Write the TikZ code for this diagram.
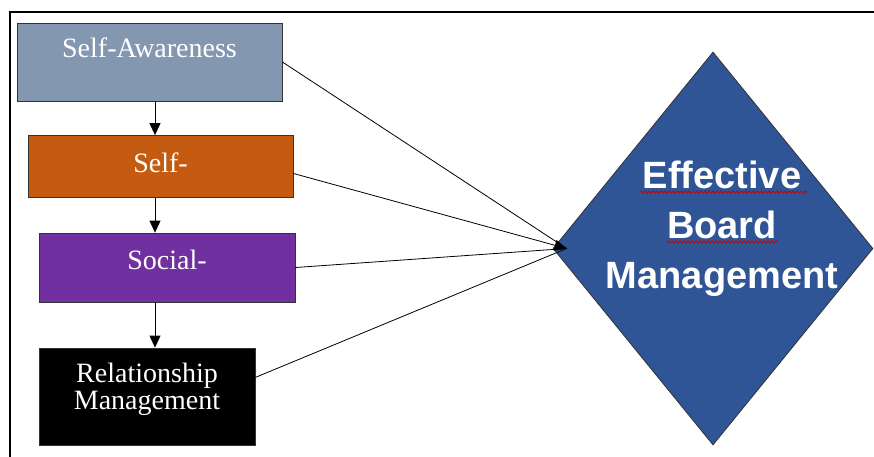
\documentclass[tikz,border=0pt]{standalone}
\usepackage{fontspec}
\setmainfont{Liberation Serif}
\newfontfamily\arialfont{Liberation Sans}
\usetikzlibrary{shapes.geometric,arrows.meta,positioning,decorations.pathmorphing}

\definecolor{awareblue}{HTML}{8497B0}
\definecolor{selforange}{HTML}{C55A11}
\definecolor{socialpurple}{HTML}{7030A0}
\definecolor{boardblue}{HTML}{2F5597}

\begin{document}
\begin{tikzpicture}[x=1pt,y=-1pt]
    \tikzset{>={Triangle[length=12pt,width=11pt]}}
    \tikzset{skill/.style={draw=black!80,line width=0.8pt,inner sep=0pt}}
    \tikzset{skilltext/.style={text=white,inner sep=0pt,anchor=base,font=\fontsize{28}{27}\selectfont}}
  \useasboundingbox (0,0) rectangle (874,456);
  %\draw[step=50pt,gray,very thin] (0,0) grid (874,456);

  \draw [line width=2pt] (10,12) rectangle (890,470);

\node[skill,fill=awareblue,minimum width=265pt,minimum height=78pt] (A) at (149.5,62) {};
\node[skilltext,yshift=-35pt] (AT) at (A.north) {Self-Awareness};

\node[skill,fill=selforange,minimum width=265pt,minimum height=62pt] (S) at (160.5,166.5) {};
\node[skilltext,yshift=-37pt] (ST) at (S.north) {Self-};

\node[skill,fill=socialpurple,minimum width=256pt,minimum height=69pt] (C) at (167,267.5) {};
\node[skilltext,yshift=-37pt] (CT) at (C.north) {Social-};

\node[skill,fill=black,minimum width=216pt,minimum height=97pt] (R) at (147,396.5) {};
\node[skilltext,yshift=-62pt,align=center] (RT) at (R.north) {Relationship\\Management};

\node[diamond,draw=black!80,line width=0.8pt,fill=boardblue,inner sep=0pt,
      minimum width=320pt,minimum height=393pt] (B) at (713,248.5) {};
\node[text=white,align=center,inner sep=0pt,font=\arialfont\bfseries\fontsize{38}{50}\selectfont] (BT) at (722,229) {Effective\\Board\\Management};

\coordinate (col) at (155,0);
\coordinate[right=14pt of B.west] (tip);

\draw [->,line width=1pt] (A.south -| col) -- (S.north -| col);
\draw [->,line width=1pt] (S.south -| col) -- (C.north -| col);
\draw [->,line width=1pt] (C.south -| col) -- (R.north -| col);

\draw [line width=0.8pt] (A.east) -- (tip);
\draw [->,line width=0.8pt] (S.-3) -- (tip);
\draw [line width=0.8pt] (C.east) -- (tip);
\draw [line width=0.8pt] (R.10) -- (tip);

% spelling marks
\draw [red!80!black,line width=0.8pt,decorate,decoration={snake,amplitude=1.2pt,segment length=4pt}] (640,192) -- (808,192);
\draw [red!80!black,line width=0.8pt,decorate,decoration={snake,amplitude=1.2pt,segment length=4pt}] (667,242) -- (778,242);

\end{tikzpicture}
\end{document}
